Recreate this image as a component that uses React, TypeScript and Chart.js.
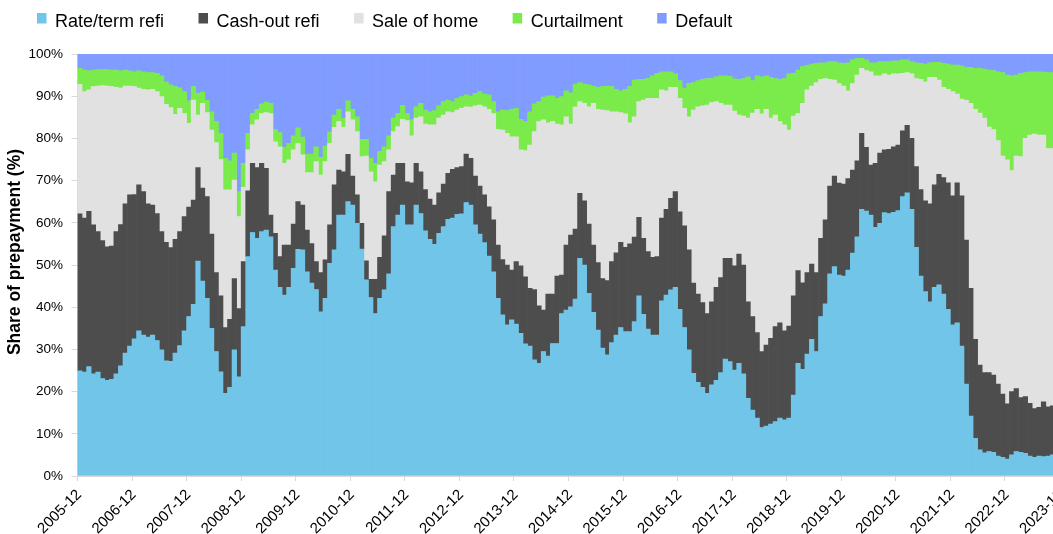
import React, { useEffect, useRef } from 'react';
import { Chart, registerables } from 'chart.js';

Chart.register(...registerables);

const START_YEAR = 2005;
const START_MONTH = 12;

const seriesLabels = ['Rate/term refi', 'Cash-out refi', 'Sale of home', 'Curtailment', 'Default'];
const seriesColors = ['#71C5E8', '#4D4D4D', '#E1E1E1', '#7AEB4A', '#819CFF'];
const yAxisTitle = 'Share of prepayment (%)';

const rateTermRefi = [
  24.9, 24.6, 25.9, 24.2, 24.6, 23.1, 22.7, 22.9, 24.2, 26.1,
  29.1, 30.8, 32.5, 34.4, 33.4, 32.9, 33.4, 32.1, 29.9, 27.3,
  27.2, 29.1, 30.9, 34.4, 37.8, 40.7, 50.9, 46.2, 42.1, 35.0,
  29.5, 24.7, 19.6, 21.0, 29.9, 23.5, 35.4, 52.0, 57.7, 56.3,
  57.9, 58.3, 56.7, 48.8, 44.7, 42.9, 44.7, 49.2, 53.7, 53.6,
  48.4, 45.7, 44.2, 38.9, 42.1, 50.4, 53.6, 61.8, 61.8, 65.0,
  64.2, 59.9, 53.8, 46.5, 42.3, 38.5, 42.1, 44.1, 47.9, 59.1,
  61.8, 64.2, 59.5, 59.5, 64.2, 62.2, 58.1, 56.1, 54.9, 57.5,
  59.1, 60.8, 61.1, 62.0, 62.1, 64.8, 64.2, 59.5, 57.3, 55.3,
  52.1, 48.4, 42.1, 38.2, 35.8, 37.0, 36.0, 33.8, 31.3, 30.8,
  27.5, 26.7, 29.5, 28.4, 31.4, 31.4, 38.5, 39.3, 40.1, 41.9,
  51.6, 50.0, 43.3, 38.8, 34.6, 30.3, 28.7, 31.6, 33.4, 35.2,
  34.2, 34.2, 36.6, 42.7, 38.3, 34.8, 33.4, 33.4, 41.5, 42.9,
  44.1, 44.7, 39.5, 35.2, 29.9, 24.3, 22.2, 21.0, 19.6, 21.6,
  22.7, 24.5, 27.7, 27.1, 25.1, 26.7, 24.2, 18.4, 15.6, 13.7,
  11.5, 11.8, 12.3, 12.9, 13.7, 13.3, 13.7, 19.2, 26.7, 25.3,
  28.9, 32.4, 29.5, 37.8, 40.8, 47.9, 49.6, 47.6, 47.4, 48.8,
  52.8, 56.7, 63.2, 62.8, 61.8, 58.9, 59.9, 62.4, 62.2, 62.5,
  62.9, 66.2, 67.1, 63.2, 54.2, 47.4, 43.7, 41.3, 44.7, 45.3,
  43.1, 39.5, 35.8, 36.3, 30.8, 21.8, 14.2, 8.9, 6.2, 5.5,
  5.8, 5.6, 4.7, 4.4, 4.0, 5.0, 5.8, 5.6, 5.4, 4.7,
  4.4, 4.7, 4.6, 4.7, 5.0, 4.8, 5.0,
];

const cashOutRefi = [
  37.2, 36.5, 36.8, 35.3, 33.3, 32.7, 31.6, 31.6, 33.7, 33.5,
  35.4, 35.8, 34.2, 34.6, 34.0, 31.6, 30.8, 30.1, 28.0, 28.1,
  26.9, 27.0, 27.0, 27.1, 25.9, 24.7, 22.2, 22.0, 24.1, 22.3,
  18.7, 18.0, 15.6, 16.1, 16.9, 16.2, 15.4, 15.6, 16.4, 16.8,
  16.2, 14.6, 5.1, 8.7, 7.3, 11.8, 10.0, 10.5, 11.3, 10.6,
  9.9, 9.4, 6.6, 9.3, 9.1, 9.1, 15.4, 10.7, 10.3, 11.2,
  6.9, 6.7, 6.1, 4.5, 4.3, 8.1, 9.7, 12.8, 19.5, 12.2,
  12.3, 9.9, 10.2, 10.0, 9.9, 9.9, 9.8, 9.5, 9.3, 9.6,
  10.1, 10.9, 11.6, 11.1, 11.2, 11.5, 11.1, 11.6, 11.4, 11.3,
  11.7, 12.3, 12.6, 13.1, 14.2, 11.8, 14.8, 16.0, 15.9, 13.7,
  16.7, 13.6, 9.8, 14.7, 11.7, 16.0, 9.1, 15.4, 17.0, 16.6,
  15.4, 15.2, 16.4, 15.9, 16.0, 16.5, 17.6, 19.2, 19.5, 20.2,
  20.0, 20.8, 20.0, 18.6, 18.0, 18.4, 18.4, 18.6, 19.6, 20.3,
  21.7, 22.7, 23.1, 24.1, 23.7, 21.4, 20.9, 20.1, 18.9, 19.7,
  22.0, 22.5, 23.9, 24.5, 24.7, 25.9, 25.8, 22.9, 22.2, 20.3,
  18.0, 19.2, 20.3, 22.5, 22.6, 21.1, 21.8, 23.5, 22.0, 20.5,
  19.3, 17.8, 18.7, 18.5, 19.9, 20.8, 21.5, 21.8, 21.8, 21.7,
  19.7, 18.0, 18.0, 15.1, 11.9, 15.2, 16.6, 14.9, 15.2, 15.5,
  15.5, 15.6, 16.0, 16.8, 19.1, 20.5, 21.5, 23.2, 24.3, 26.2,
  27.6, 30.0, 30.6, 33.2, 35.6, 34.1, 30.3, 23.5, 20.1, 19.0,
  18.7, 18.3, 17.1, 15.0, 13.1, 15.0, 14.9, 13.0, 13.4, 12.5,
  11.6, 11.6, 13.0, 11.7, 11.6, 12.0, 12.0,
];

const saleOfHome = [
  30.7, 30.0, 28.8, 32.8, 34.5, 36.7, 38.1, 37.8, 34.2, 32.3,
  27.9, 25.8, 25.6, 22.9, 24.2, 27.0, 27.4, 28.9, 32.0, 32.7,
  33.2, 29.6, 29.2, 24.4, 19.9, 23.7, 12.4, 20.1, 19.9, 24.7,
  30.8, 32.3, 32.6, 30.7, 23.3, 21.8, 17.6, 9.7, 9.1, 11.3,
  11.8, 13.2, 24.1, 21.7, 26.0, 19.4, 20.2, 17.6, 13.8, 11.9,
  13.6, 16.8, 23.7, 23.1, 23.3, 19.3, 13.6, 11.5, 10.5, 10.1,
  13.3, 15.0, 15.8, 24.8, 25.5, 23.1, 21.9, 17.6, 9.9, 10.3,
  8.7, 10.4, 14.5, 11.1, 10.7, 13.0, 15.5, 17.6, 19.0, 17.7,
  16.3, 14.6, 13.4, 13.6, 13.8, 11.2, 12.1, 16.6, 19.2, 20.9,
  23.1, 25.2, 27.4, 30.7, 31.2, 31.6, 29.6, 27.5, 29.9, 33.9,
  37.4, 43.7, 45.1, 40.6, 40.9, 36.0, 35.6, 30.4, 26.3, 28.9,
  21.7, 23.1, 27.8, 33.6, 36.3, 39.9, 40.3, 35.5, 33.4, 30.7,
  31.6, 28.7, 28.5, 27.4, 32.8, 36.3, 37.7, 37.5, 30.4, 28.1,
  26.3, 24.7, 26.9, 27.8, 31.5, 41.0, 44.4, 46.6, 49.4, 47.2,
  44.0, 41.3, 36.3, 36.3, 36.7, 32.9, 35.3, 43.5, 48.2, 52.9,
  56.3, 55.9, 52.2, 50.1, 47.7, 48.8, 46.5, 42.6, 37.2, 42.5,
  43.3, 42.2, 45.0, 37.7, 33.5, 25.3, 22.7, 23.6, 23.2, 20.8,
  20.5, 20.3, 15.4, 18.2, 22.1, 20.7, 18.3, 18.0, 17.6, 17.3,
  16.9, 13.6, 12.5, 15.3, 20.9, 26.1, 28.2, 30.0, 25.5, 22.3,
  21.4, 22.1, 24.7, 21.0, 22.9, 33.1, 43.8, 54.5, 59.7, 60.3,
  58.2, 58.2, 57.7, 56.4, 57.8, 52.4, 55.1, 57.1, 61.2, 63.6,
  65.0, 64.5, 63.2, 61.2, 61.0, 60.7, 60.8,
];

const curtailment = [
  3.8, 5.1, 4.5, 3.9, 3.9, 3.8, 3.9, 3.9, 4.1, 4.1,
  3.8, 3.6, 3.5, 4.1, 4.2, 4.1, 4.0, 4.3, 4.9, 5.3,
  5.4, 6.6, 4.9, 5.2, 5.3, 3.2, 5.2, 2.7, 2.9, 4.3,
  5.0, 6.2, 7.5, 6.9, 6.4, 5.9, 5.7, 3.9, 2.7, 2.5,
  2.3, 2.5, 2.4, 2.9, 3.4, 3.8, 3.9, 3.3, 3.7, 4.2,
  4.4, 4.4, 3.5, 4.2, 3.7, 2.7, 2.9, 2.9, 2.2, 2.6,
  2.5, 3.5, 4.1, 4.0, 3.2, 4.4, 3.2, 3.5, 3.3, 3.2,
  3.1, 3.3, 1.7, 3.8, 2.7, 3.2, 3.3, 3.1, 3.4, 2.9,
  3.2, 2.8, 2.6, 2.8, 2.8, 2.8, 2.6, 3.0, 3.2, 3.0,
  3.4, 2.8, 4.2, 4.7, 5.4, 6.5, 6.7, 7.2, 6.9, 7.9,
  6.6, 4.7, 5.4, 6.4, 6.1, 6.1, 6.7, 6.2, 7.4, 5.5,
  4.5, 4.6, 5.2, 4.1, 5.2, 5.6, 5.8, 6.0, 5.3, 5.2,
  5.8, 8.6, 8.7, 5.3, 4.9, 4.7, 5.3, 5.9, 4.3, 4.5,
  3.7, 3.2, 4.2, 4.8, 7.9, 6.5, 6.2, 6.3, 6.3, 5.7,
  5.9, 6.5, 6.9, 6.8, 7.6, 8.5, 8.9, 9.8, 7.7, 7.9,
  8.8, 7.9, 9.7, 8.7, 10.0, 11.0, 13.3, 10.1, 10.3, 8.7,
  5.8, 5.2, 4.6, 3.9, 3.7, 4.2, 4.4, 4.9, 5.4, 6.6,
  5.6, 4.0, 2.4, 2.5, 2.1, 3.1, 3.4, 2.9, 3.2, 3.1,
  3.1, 3.2, 3.0, 2.9, 3.7, 3.8, 4.2, 3.4, 3.5, 4.2,
  5.7, 6.0, 6.3, 6.9, 7.9, 7.8, 8.5, 9.7, 10.6, 11.6,
  13.5, 14.0, 16.3, 19.8, 20.1, 22.4, 19.2, 19.7, 15.6, 15.0,
  14.8, 15.0, 14.9, 18.0, 18.0, 18.0, 17.7,
];

const defaultShare = [
  3.4, 3.8, 4.0, 3.8, 3.7, 3.7, 3.7, 3.8, 3.8, 4.0,
  3.8, 4.0, 4.2, 4.0, 4.2, 4.4, 4.4, 4.6, 5.2, 6.6,
  7.3, 7.7, 8.0, 8.9, 11.1, 7.7, 9.3, 9.0, 11.0, 13.7,
  16.0, 18.8, 24.7, 25.3, 23.5, 32.6, 25.9, 18.8, 14.1, 13.1,
  11.8, 11.4, 11.7, 17.9, 18.6, 22.1, 21.2, 19.4, 17.5, 19.7,
  23.7, 23.7, 22.0, 24.5, 21.8, 18.5, 14.5, 13.1, 15.2, 11.1,
  13.1, 14.9, 20.2, 20.2, 24.7, 25.9, 23.1, 22.0, 19.4, 15.2,
  14.1, 12.2, 14.1, 15.6, 12.5, 11.7, 13.3, 13.7, 13.4, 12.3,
  11.3, 10.9, 11.3, 10.5, 10.1, 9.7, 10.0, 9.3, 8.9, 9.5,
  9.7, 11.3, 13.7, 13.3, 13.4, 13.1, 12.9, 15.5, 16.0, 13.7,
  11.8, 11.3, 10.2, 9.9, 9.9, 10.5, 10.1, 8.7, 9.2, 7.1,
  6.8, 7.1, 7.3, 7.6, 7.9, 7.7, 7.6, 7.7, 8.4, 8.7,
  8.4, 7.7, 6.2, 6.0, 6.0, 5.8, 5.2, 4.6, 4.2, 4.2,
  4.2, 4.7, 6.3, 8.1, 7.0, 6.8, 6.3, 6.0, 5.8, 5.8,
  5.4, 5.2, 5.2, 5.3, 5.9, 6.0, 5.8, 5.4, 6.3, 5.2,
  5.4, 5.2, 5.5, 5.8, 6.0, 5.8, 4.7, 4.6, 3.8, 3.0,
  2.7, 2.4, 2.2, 2.1, 2.1, 1.8, 1.8, 2.1, 2.2, 2.1,
  1.4, 1.0, 1.0, 1.4, 2.1, 2.1, 1.8, 1.8, 1.8, 1.6,
  1.6, 1.4, 1.4, 1.8, 2.1, 2.2, 2.4, 2.1, 2.0, 2.0,
  2.2, 2.4, 2.6, 2.6, 2.8, 3.2, 3.2, 3.4, 3.4, 3.6,
  3.8, 3.9, 4.2, 4.4, 5.0, 5.2, 5.0, 4.6, 4.4, 4.2,
  4.2, 4.2, 4.3, 4.4, 4.4, 4.5, 4.5,
];

const seriesValues = [rateTermRefi, cashOutRefi, saleOfHome, curtailment, defaultShare];

const categories: string[] = rateTermRefi.map((_, i) => {
  const t = START_MONTH - 1 + i;
  const y = START_YEAR + Math.floor(t / 12);
  const m = (t % 12) + 1;
  return `${y}-${String(m).padStart(2, '0')}`;
});

const FONT = "'Liberation Sans', Arial, Helvetica, sans-serif";

const chartDecor = {
  id: 'chartDecor',
  afterDraw(chart: any) {
    const ctx = chart.ctx;
    ctx.save();
    // legend
    ctx.font = `18px ${FONT}`;
    ctx.textBaseline = 'alphabetic';
    ctx.textAlign = 'left';
    let x = 37;
    chart.data.datasets.forEach((ds: any) => {
      ctx.fillStyle = ds.backgroundColor;
      ctx.fillRect(x, 13, 9.5, 10.5);
      x += 18;
      ctx.fillStyle = '#000000';
      ctx.fillText(ds.label, x, 26.5);
      x += ctx.measureText(ds.label).width + 34.5;
    });
    // y axis title
    ctx.translate(15.5, 252);
    ctx.rotate(-Math.PI / 2);
    ctx.font = `bold 17.5px ${FONT}`;
    ctx.textAlign = 'center';
    ctx.textBaseline = 'middle';
    ctx.fillStyle = '#000000';
    ctx.fillText(yAxisTitle, 0, 0);
    ctx.restore();
  },
};

export default function App() {
  const canvasRef = useRef<HTMLCanvasElement | null>(null);

  useEffect(() => {
    if (!canvasRef.current) return;
    Chart.defaults.font.family = FONT;
    const chart = new Chart(canvasRef.current, {
      type: 'bar',
      data: {
        labels: categories,
        datasets: seriesLabels.map((label, i) => ({
          label,
          data: seriesValues[i],
          backgroundColor: seriesColors[i],
          borderWidth: 0,
          barPercentage: 1,
          categoryPercentage: 1,
        })),
      },
      options: {
        responsive: false,
        animation: false,
        devicePixelRatio: 1,
        layout: { padding: { left: 4, top: 54, right: 0, bottom: 0 } },
        plugins: {
          legend: { display: false },
          tooltip: { enabled: false },
        },
        scales: {
          x: {
            stacked: true,
            offset: true,
            grid: {
              display: true,
              offset: true,
              drawOnChartArea: false,
              drawTicks: true,
              tickLength: 5,
              color: (c: any) => (c.index % 12 === 0 ? '#D9D9D9' : 'rgba(0,0,0,0)'),
            },
            border: { display: true, color: '#D9D9D9' },
            ticks: {
              autoSkip: false,
              maxRotation: 45,
              minRotation: 45,
              padding: 5,
              labelOffset: -0.5,
              color: '#000000',
              font: { size: 15 },
              callback: (_v: any, i: number) => (i % 12 === 0 ? categories[i] : ''),
            },
            afterFit: (s: any) => {
              s.paddingLeft = 0;
              s.paddingRight = 0;
              s.height = 60;
            },
          },
          y: {
            stacked: true,
            min: 0,
            max: 100,
            grid: { drawOnChartArea: false, tickLength: 6, color: '#D9D9D9' },
            border: { display: true, color: '#D9D9D9' },
            ticks: {
              stepSize: 10,
              padding: 8.5,
              color: '#000000',
              font: { size: 13.5 },
              callback: (v: any) => `${v}%`,
            },
            title: { display: false },
            afterFit: (s: any) => {
              s.width = 73.5;
            },
          },
        },
      },
      plugins: [chartDecor],
    });
    return () => chart.destroy();
  }, []);

  return (
    <div
      style={{
        position: 'fixed',
        left: 0,
        top: 0,
        width: 1053,
        height: 534,
        overflow: 'hidden',
        background: '#ffffff',
      }}
    >
      <canvas ref={canvasRef} width={1064} height={536} style={{ display: 'block' }} />
    </div>
  );
}
